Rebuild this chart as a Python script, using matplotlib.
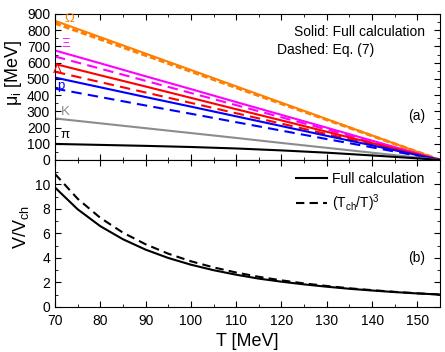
import numpy as np
import matplotlib
matplotlib.use('Agg')
import matplotlib.pyplot as plt
from matplotlib.ticker import MultipleLocator

plt.rcParams['font.family'] = ['Liberation Sans', 'DejaVu Sans']
plt.rcParams['mathtext.fontset'] = 'custom'
plt.rcParams['mathtext.rm'] = 'Liberation Sans'
plt.rcParams['mathtext.it'] = 'Liberation Sans'

# temperatures (MeV) for panel (a)
T_a = [70, 80, 90, 100, 110, 120, 130, 140, 150, 155]

# chemical potentials [MeV], full calculation (solid) and Eq. (7) (dashed)
mu_omega_full = [858, 757, 656, 555, 454, 353, 252, 151, 50, 0]
mu_omega_eq7 = [843, 744, 645, 546, 446, 347, 248, 149, 50, 0]
mu_xi_full = [675, 596, 516, 437, 357, 278, 199, 119, 40, 0]
mu_xi_eq7 = [638, 563, 488, 413, 338, 263, 188, 113, 38, 0]
mu_lambda_full = [592, 522, 453, 383, 313, 244, 174, 104, 35, 0]
mu_lambda_eq7 = [544, 480, 416, 352, 288, 224, 160, 96, 32, 0]
mu_p_full = [508, 448, 388, 329, 269, 209, 149, 90, 30, 0]
mu_p_eq7 = [440, 388, 336, 285, 233, 181, 129, 78, 26, 0]
mu_k_full = [256, 226, 196, 166, 136, 105, 75, 45, 15, 0]
mu_pi_full = [99, 93, 87, 80, 71, 59, 45, 28, 10, 0]

# panel (b): volume ratio
T_b = [70, 75, 80, 85, 90, 95, 100, 105, 110, 115, 120, 125, 130, 135, 140, 145, 150, 155]
vol_full = [9.75, 7.97, 6.59, 5.52, 4.67, 3.99, 3.44, 2.99, 2.62, 2.30, 2.05, 1.83,
            1.64, 1.47, 1.33, 1.20, 1.09, 1.00]
vol_tcube = [10.86, 8.83, 7.27, 6.06, 5.11, 4.34, 3.72, 3.22, 2.80, 2.45, 2.16, 1.91,
             1.70, 1.51, 1.36, 1.22, 1.10, 1.00]

ORANGE = '#ff8000'
MAGENTA = '#ff00ff'
RED = '#ff0000'
BLUE = '#0000ff'
GREY = '#8c8c8c'

fig = plt.figure(figsize=(4.45, 3.52), dpi=100)
ax1 = fig.add_axes([0.1236, 0.5455, 0.8652, 0.4148])
ax2 = fig.add_axes([0.1236, 0.1285, 0.8652, 0.417], sharex=ax1)

lw = 1.5
dash = (0, (5, 3))
ax1.plot(T_a, mu_omega_full, color=ORANGE, lw=lw)
ax1.plot(T_a, mu_omega_eq7, color=ORANGE, lw=2.2, ls=(0, (2.0, 1.0)))
ax1.plot(T_a, mu_xi_full, color=MAGENTA, lw=lw)
ax1.plot(T_a, mu_xi_eq7, color=MAGENTA, lw=lw, ls=dash)
ax1.plot(T_a, mu_lambda_full, color=RED, lw=lw)
ax1.plot(T_a, mu_lambda_eq7, color=RED, lw=lw, ls=dash)
ax1.plot(T_a, mu_p_full, color=BLUE, lw=lw)
ax1.plot(T_a, mu_p_eq7, color=BLUE, lw=lw, ls=dash)
ax1.plot(T_a, mu_k_full, color=GREY, lw=lw)
ax1.plot(T_a, mu_pi_full, color='black', lw=lw)

lab_fs = 9.5
ax1.text(73.3, 875, r'$\Omega$', color=ORANGE, fontsize=lab_fs, ha='center', va='center')
ax1.text(72.4, 717, r'$\Xi$', color=MAGENTA, fontsize=lab_fs, ha='center', va='center')
ax1.text(70.6, 555, r'$\Lambda$', color=RED, fontsize=lab_fs, ha='center', va='center')
ax1.text(71.2, 455, 'p', color=BLUE, fontsize=lab_fs, ha='center', va='center')
ax1.text(72.3, 298, 'K', color=GREY, fontsize=lab_fs, ha='center', va='center')
ax1.text(72.3, 152, r'$\pi$', color='black', fontsize=lab_fs, ha='center', va='center')

ax1.text(0.961, 0.878, 'Solid: Full calculation', transform=ax1.transAxes,
         ha='right', va='center', fontsize=10)
ax1.text(0.829, 0.755, 'Dashed: Eq. (7)', transform=ax1.transAxes,
         ha='right', va='center', fontsize=10)
ax1.text(0.961, 0.30, '(a)', transform=ax1.transAxes, ha='right', va='center', fontsize=10)

ax1.set_ylim(0, 900)
ax1.yaxis.set_major_locator(MultipleLocator(100))
ax1.yaxis.set_minor_locator(MultipleLocator(50))
ax1.set_ylabel(r'$\mu_{\rm i}$ [MeV]', fontsize=13)
ax1.yaxis.set_label_coords(-0.08, 0.6)
plt.setp(ax1.get_xticklabels(), visible=False)

ax2.plot(T_b, vol_full, color='black', lw=lw, label='Full calculation')
ax2.plot(T_b, vol_tcube, color='black', lw=lw, ls=(0, (4, 2.5)),
         label=r'(T$_{\rm ch}$/T)$^3$')
ax2.legend(loc='upper right', bbox_to_anchor=(0.975, 0.955), frameon=False, fontsize=10,
           handlelength=2.3, handletextpad=0.36, borderaxespad=0, borderpad=0.4,
           labelspacing=0.45)
ax2.text(0.961, 0.333, '(b)', transform=ax2.transAxes, ha='right', va='center', fontsize=10)

ax2.set_ylim(0, 12)
ax2.set_yticks([0, 2, 4, 6, 8, 10])
ax2.yaxis.set_minor_locator(MultipleLocator(1))
ax2.set_xlim(70, 155)
ax2.xaxis.set_major_locator(MultipleLocator(10))
ax2.xaxis.set_minor_locator(MultipleLocator(5))
ax2.set_xlabel('T [MeV]', fontsize=13, labelpad=4)
ax2.set_ylabel(r'V/V$_{\rm ch}$', fontsize=13)
ax2.yaxis.set_label_coords(-0.062, 0.54)

for ax in (ax1, ax2):
    ax.tick_params(which='both', direction='in', top=True, right=True, labelsize=10)
    ax.tick_params(which='major', length=4)
    ax.tick_params(which='minor', length=2)
    ax.tick_params(axis='y', pad=3.5)
ax2.tick_params(axis='x', pad=5)

fig.savefig('out.png', dpi=100)
